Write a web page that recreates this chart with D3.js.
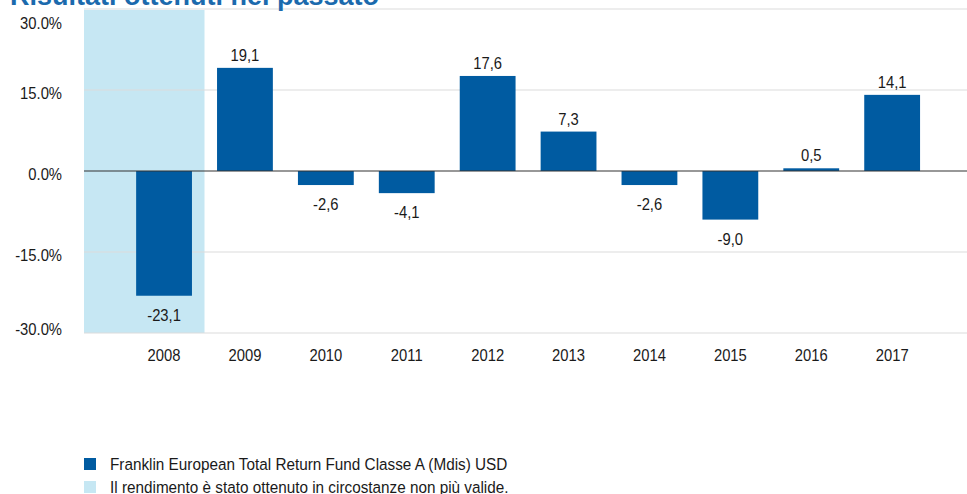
<!DOCTYPE html>
<html>
<head>
<meta charset="utf-8">
<script src="https://cdn.jsdelivr.net/npm/d3@7"></script>
<style>
body { margin: 0; background: #fff; }
svg text { font-family: "Liberation Sans", Arial, sans-serif; fill: #1a1a1a; font-size: 17px; }
</style>
</head>
<body>
<svg id="chart" width="967" height="494"></svg>
<script>
var years = ["2008", "2009", "2010", "2011", "2012", "2013", "2014", "2015", "2016", "2017"];
var returns = [-23.1, 19.1, -2.6, -4.1, 17.6, 7.3, -2.6, -9.0, 0.5, 14.1];
var yTicks = [30, 15, 0, -15, -30];
var shadedYears = ["2008"];
var legendLabels = ["Franklin European Total Return Fund Classe A (Mdis) USD",
    "Il rendimento è stato ottenuto in circostanze non più valide."];

var barColor = "#005ba1", shadeColor = "#c6e7f3";
var plot = {left: 84, right: 967, top: 9, bottom: 333};

var svg = d3.select("#chart");

// place text with a horizontal squeeze (narrow font look)
function place(sel, fx, fy, k) {
    k = k || 0.87;
    return sel.attr("transform", (d, i) => "translate(" + fx(d, i) + "," + fy(d, i) + ") scale(" + k + ",1)");
}
var fmt = v => d3.format(".1f")(v).replace("\u2212", "-");

var x = d3.scaleBand()
    .domain(years)
    .range([123.6, 932.6])
    .paddingInner(0.31)
    .paddingOuter(0.155);

var y = d3.scaleLinear()
    .domain([-30, 30])
    .range([plot.bottom, plot.top]);

// shaded period (from plot left to end of last shaded band)
var lastShade = shadedYears[shadedYears.length - 1];
svg.append("rect")
    .attr("x", plot.left)
    .attr("y", y(30) + 1)
    .attr("width", x(lastShade) + x.bandwidth() + x.step() * x.paddingInner() / 2 - plot.left)
    .attr("height", y(-30) - y(30) - 1)
    .attr("fill", shadeColor);

// gridlines
svg.append("g").selectAll("line")
    .data(yTicks.filter(d => d !== 0))
    .enter().append("line")
    .attr("x1", plot.left).attr("x2", plot.right)
    .attr("y1", d => y(d)).attr("y2", d => y(d))
    .attr("stroke", "#dcdcdc")
    .attr("stroke-width", 1.2);

// y labels (top and bottom kept inside the plot)
place(svg.append("g").selectAll("text")
    .data(yTicks)
    .enter().append("text"),
    d => 62,
    d => y(d) + (d === 30 ? 20 : d === -30 ? 2 : 9))
    .attr("text-anchor", "end")
    .text(d => fmt(d) + "%");

// bars
svg.append("g").selectAll("rect")
    .data(returns)
    .enter().append("rect")
    .attr("x", (d, i) => x(years[i]))
    .attr("width", x.bandwidth())
    .attr("y", d => y(Math.max(0, d)))
    .attr("height", d => Math.abs(y(d) - y(0)))
    .attr("fill", barColor);

// zero line
svg.append("line")
    .attr("x1", plot.left).attr("x2", plot.right)
    .attr("y1", y(0)).attr("y2", y(0))
    .attr("stroke", "#333")
    .attr("stroke-width", 1.2);

// value labels
place(svg.append("g").selectAll("text")
    .data(returns)
    .enter().append("text"),
    (d, i) => x(years[i]) + x.bandwidth() / 2,
    d => d >= 0 ? y(d) - 7 : y(d) + 25)
    .attr("text-anchor", "middle")
    .text(d => fmt(d).replace(".", ","));

// x labels
place(svg.append("g").selectAll("text")
    .data(years)
    .enter().append("text"),
    d => x(d) + x.bandwidth() / 2,
    d => 361)
    .attr("text-anchor", "middle")
    .text(d => d);

// title (clipped at the top)
svg.append("text")
    .attr("x", 10)
    .attr("y", 5)
    .style("font-weight", "bold")
    .style("font-size", "27px")
    .style("fill", "#1b6aad")
    .text("Risultati ottenuti nel passato");

// legend
var legend = svg.append("g").selectAll("g")
    .data(legendLabels)
    .enter().append("g")
    .attr("transform", (d, i) => "translate(84," + (458 + i * 23) + ")");
legend.append("rect")
    .attr("width", 12).attr("height", 12)
    .attr("fill", (d, i) => i === 0 ? barColor : shadeColor);
place(legend.append("text"), d => 26, d => 11.5, 0.9)
    .text(d => d);
</script>
</body>
</html>
